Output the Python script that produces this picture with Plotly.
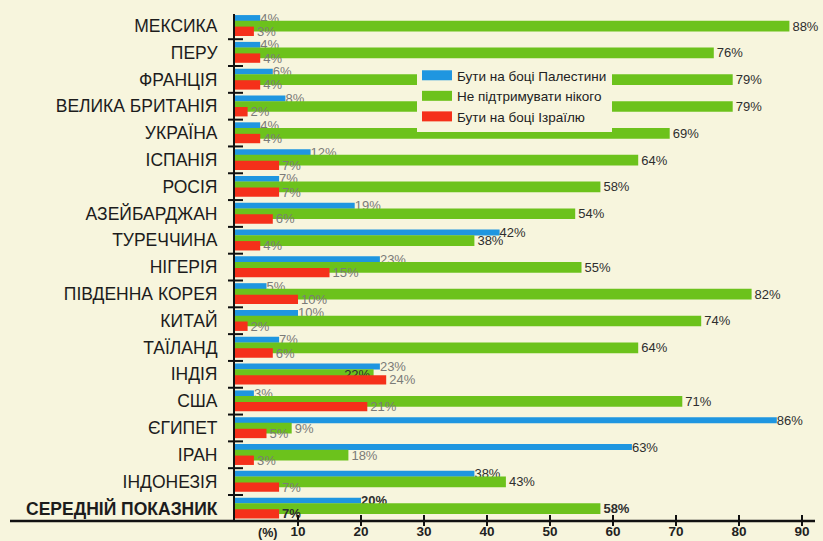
import plotly.graph_objects as go

# ---- data ----
countries = ["МЕКСИКА", "ПЕРУ", "ФРАНЦІЯ", "ВЕЛИКА БРИТАНІЯ", "УКРАЇНА", "ІСПАНІЯ",
             "РОСІЯ", "АЗЕЙБАРДЖАН", "ТУРЕЧЧИНА", "НІГЕРІЯ", "ПІВДЕННА КОРЕЯ", "КИТАЙ",
             "ТАЇЛАНД", "ІНДІЯ", "США", "ЄГИПЕТ", "ІРАН", "ІНДОНЕЗІЯ", "СЕРЕДНІЙ ПОКАЗНИК"]
palestine = [4, 4, 6, 8, 4, 12, 7, 19, 42, 23, 5, 10, 7, 23, 3, 86, 63, 38, 20]
neutral = [88, 76, 79, 79, 69, 64, 58, 54, 38, 55, 82, 74, 64, 22, 71, 9, 18, 43, 58]
israel = [3, 4, 4, 2, 4, 7, 7, 6, 4, 15, 10, 2, 6, 24, 21, 5, 3, 7, 7]
series_names = ["Бути на боці Палестини", "Не підтримувати нікого", "Бути на боці Ізраїлю"]
x_tick_vals = [10, 20, 30, 40, 50, 60, 70, 80, 90]
x_unit_label = "(%)"

# ---- style ----
BG = "#f7f5dd"
BLUE = "#1f96e0"
GREEN = "#6cc21c"
RED = "#f5301a"
DARK = "#2e2e2e"
GRAY = "#7b7b78"
FONT = "Liberation Sans"

W, H = 823, 541
ML, MR, MT, MB = 235, 8, 14, 20
PX_PER_UNIT = 6.3
plot_w = W - ML - MR
plot_h = H - MT - MB
x_max = plot_w / PX_PER_UNIT

n = len(countries)
last = n - 1


def labels(vals):
    out = []
    for i, v in enumerate(vals):
        t = f"{v}%"
        out.append(f"<b>{t}</b>" if i == last else t)
    return out


def label_colors(vals):
    return [DARK if (v >= 30 or i == last) else GRAY for i, v in enumerate(vals)]


ticktext = [f"<b>{c}</b>" if i == last else c for i, c in enumerate(countries)]

fig = go.Figure()

# blue (top), green (middle), red (bottom)
fig.add_trace(go.Bar(
    y=countries, x=palestine, orientation="h", name=series_names[0],
    marker=dict(color=BLUE, line=dict(width=0)),
    offset=-0.40, width=0.22,
    text=labels(palestine), textposition="outside",
    textfont=dict(family=FONT, size=13, color=label_colors(palestine)),
    constraintext="none", cliponaxis=False, showlegend=False,
))

green_pos = ["outside"] * n
green_pos[countries.index("ІНДІЯ")] = "inside"
fig.add_trace(go.Bar(
    y=countries, x=neutral, orientation="h", name=series_names[1],
    marker=dict(color=GREEN, line=dict(width=0)),
    offset=-0.19, width=0.40,
    text=labels(neutral), textposition=green_pos, insidetextanchor="end",
    textfont=dict(family=FONT, size=13, color=label_colors(neutral)),
    insidetextfont=dict(family=FONT, size=13, color=DARK),
    constraintext="none", cliponaxis=False, showlegend=False,
))

fig.add_trace(go.Bar(
    y=countries, x=israel, orientation="h", name=series_names[2],
    marker=dict(color=RED, line=dict(width=0)),
    offset=0.03, width=0.35,
    text=labels(israel), textposition="outside",
    textfont=dict(family=FONT, size=13, color=label_colors(israel)),
    constraintext="none", cliponaxis=False, showlegend=False,
    xaxis="x2",
))

# legend entries (wide colour swatches)
for name, col in zip(series_names, [BLUE, GREEN, RED]):
    fig.add_trace(go.Scatter(
        x=[None], y=[None], mode="lines", name=name,
        line=dict(color=col, width=10), showlegend=True,
    ))

# y-axis tick marks at category boundaries, crossing the axis line
shapes = []
for i in range(n - 1):
    shapes.append(dict(
        type="line", xref="paper", yref="y",
        x0=-7 / plot_w, x1=8 / plot_w, y0=i + 0.5, y1=i + 0.5,
        line=dict(color="#111", width=2),
    ))
# x-axis baseline extended under the labels
shapes.append(dict(
    type="line", xref="paper", yref="paper",
    x0=(10 - ML) / plot_w, x1=1, y0=0, y1=0,
    line=dict(color="#111", width=2.5),
))

fig.update_layout(
    width=W, height=H,
    margin=dict(l=ML, r=MR, t=MT, b=MB, pad=0, autoexpand=False),
    paper_bgcolor=BG, plot_bgcolor=BG,
    barmode="overlay",
    font=dict(family=FONT, color=DARK),
    shapes=shapes,
    xaxis=dict(
        range=[0, x_max], tickvals=x_tick_vals, automargin=False,
        ticks="outside", ticklen=4, tickwidth=2, tickcolor="#111",
        ticklabelstandoff=-6,
        tickfont=dict(family=FONT, size=13.5, color="#222", weight="bold"),
        showgrid=False, zeroline=False, showline=False, fixedrange=True,
    ),
    xaxis2=dict(
        overlaying="x", matches="x", anchor="y", side="bottom", automargin=False,
        tickvals=x_tick_vals, ticks="inside", ticklen=6, tickwidth=2, tickcolor="#111",
        showticklabels=False, showgrid=False, zeroline=False, showline=False,
    ),
    yaxis=dict(
        type="category", categoryorder="array", categoryarray=countries,
        tickvals=countries, ticktext=ticktext, automargin=False,
        range=[18.47, -0.44],
        ticks="", ticklabelstandoff=12,
        tickfont=dict(family=FONT, size=17.5, color="#1c1c1c"),
        showgrid=False, zeroline=False,
        showline=True, linewidth=2, linecolor="#111",
    ),
    legend=dict(
        x=(417 - ML) / plot_w, y=1 - (60 - MT) / plot_h,
        xanchor="left", yanchor="top",
        bgcolor=BG, borderwidth=0,
        font=dict(family=FONT, size=13.5, color="#222"),
        itemwidth=30, tracegroupgap=0,
    ),
    annotations=[dict(
        text=f"<b>{x_unit_label}</b>", x=5.2, xref="x", y=0, yref="paper",
        yanchor="top", yshift=-3, showarrow=False,
        font=dict(family=FONT, size=12.5, color="#222"),
    )],
)

fig.write_html(
    "out.html",
    config={"displayModeBar": False},
    post_script="document.body.style.margin='0';document.body.style.background='" + BG + "';",
)
